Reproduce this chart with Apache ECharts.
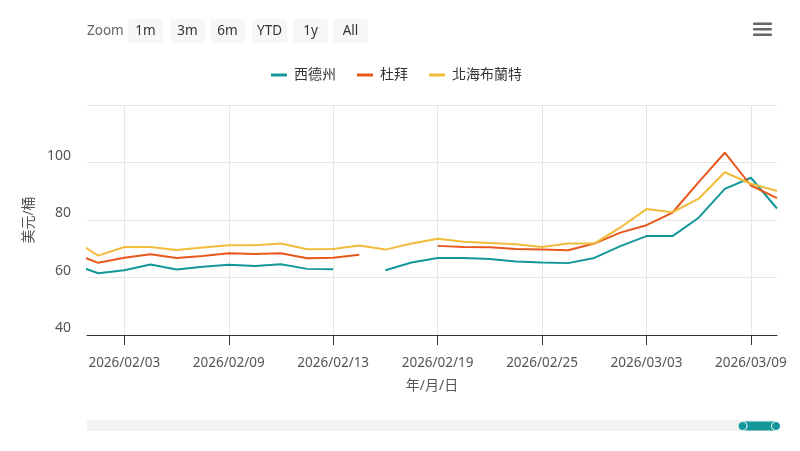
<!DOCTYPE html>
<html>
<head>
  <meta charset="utf-8">
  <title>油價</title>
  <script src="https://cdn.jsdelivr.net/npm/echarts@6/dist/echarts.min.js"></script>
  <style>
    body { margin: 0; background: #fff; }
  </style>
</head>
<body>
  <div id="main" style="width: 800px;height:451px;"></div>
  <script type="text/javascript">
    // 交易日 (index 0 = 2026/01/30)
    var dates = ['2026/01/30', '2026/02/02', '2026/02/03', '2026/02/04', '2026/02/05', '2026/02/06',
      '2026/02/09', '2026/02/10', '2026/02/11', '2026/02/12', '2026/02/13', '2026/02/16',
      '2026/02/17', '2026/02/18', '2026/02/19', '2026/02/20', '2026/02/23', '2026/02/24',
      '2026/02/25', '2026/02/26', '2026/02/27', '2026/03/02', '2026/03/03', '2026/03/04',
      '2026/03/05', '2026/03/06', '2026/03/09', '2026/03/10'];

    var wti = [64.7, 61.5, 62.5, 64.5, 62.8, 63.7, 64.4, 64.0, 64.6, 63.0, 62.9, null,
      62.5, 65.2, 66.8, 66.8, 66.4, 65.6, 65.2, 65.0, 66.8, 70.9, 74.4, 74.4,
      80.8, 90.8, 94.7, 84.0];
    var dubai = [68.6, 65.1, 66.9, 68.1, 66.8, 67.5, 68.4, 68.2, 68.4, 66.7, 66.9, 67.9,
      null, null, 71.0, 70.6, 70.5, 69.9, 69.7, 69.5, 71.8, 75.6, 78.2, 82.6,
      93.2, 103.4, 92.0, 87.6];
    var brent = [73.4, 67.6, 70.6, 70.6, 69.6, 70.4, 71.2, 71.2, 71.8, 69.8, 69.9, 71.1,
      69.7, 71.8, 73.5, 72.4, 72.0, 71.6, 70.6, 71.8, 71.8, 77.4, 83.8, 82.7,
      87.4, 96.6, 92.6, 90.1];

    var tickIdx = [2, 6, 10, 14, 18, 22, 26];
    var zoomBtns = ['1m', '3m', '6m', 'YTD', '1y', 'All'];

    var teal = '#13979b', orange = '#e8571b', yellow = '#f1bb3b';
    var font = "'Noto Sans', 'Noto Sans CJK TC', sans-serif";

    function toPairs(arr) {
      return arr.map(function (v, i) { return [i, v == null ? '-' : v]; });
    }

    var myChart = echarts.init(document.getElementById('main'));

    // 頂部 Zoom 按鈕, 選單圖示, 底部導覽列
    var graphics = [{
      type: 'text', x: 87, y: 31,
      style: { text: 'Zoom', fill: '#666', fontSize: 13.5, fontFamily: font, verticalAlign: 'middle' }
    }];
    var bx = [128, 170, 210, 252, 293, 333];
    zoomBtns.forEach(function (b, i) {
      graphics.push({
        type: 'rect', left: bx[i], top: 19,
        shape: { width: 35, height: 24, r: 2 },
        style: { fill: '#f7f7f7' }
      });
      graphics.push({
        type: 'text', x: bx[i] + 17.5, y: 31,
        style: { text: b, fill: '#333', fontSize: 13.5, fontFamily: font, align: 'center', verticalAlign: 'middle' }
      });
    });
    [22.5, 28, 33.5].forEach(function (y) {
      graphics.push({
        type: 'rect', left: 753, top: y,
        shape: { width: 19, height: 2.6, r: 1 },
        style: { fill: '#666' }
      });
    });
    graphics.push({
      type: 'rect', left: 87, top: 420,
      shape: { width: 690, height: 11 },
      style: { fill: '#f2f2f2' }
    });
    graphics.push({
      type: 'rect', left: 742, top: 421.5,
      shape: { width: 34, height: 9 },
      style: { fill: teal }
    });
    [742.5, 776].forEach(function (cx) {
      graphics.push({
        type: 'circle', shape: { cx: cx, cy: 426, r: 4.5 },
        style: { fill: teal, stroke: '#fff', lineWidth: 1 }
      });
    });

    var option = {
      backgroundColor: '#fff',
      animation: false,
      textStyle: { fontFamily: font },
      legend: {
        left: 266, top: 63,
        icon: 'rect', itemWidth: 16, itemHeight: 3, itemGap: 21,
        textStyle: { fontSize: 14, color: '#333', fontFamily: font, padding: [0, 0, 0, 2] },
        data: ['西德州', '杜拜', '北海布蘭特']
      },
      grid: { left: 87, right: 23, top: 105, bottom: 116 },
      xAxis: {
        type: 'value',
        min: 0.57, max: 27,
        name: '年/月/日',
        nameLocation: 'middle',
        nameGap: 44,
        nameTextStyle: { fontSize: 14, color: '#555' },
        axisLine: { show: true, onZero: false, lineStyle: { color: '#333', width: 1 } },
        axisTick: { show: true, length: 10, customValues: tickIdx, lineStyle: { color: '#333' } },
        axisLabel: {
          customValues: tickIdx, margin: 21, fontSize: 13.5, color: '#555',
          formatter: function (v) { return dates[Math.round(v)]; }
        },
        splitLine: { show: true, customValues: tickIdx, lineStyle: { color: '#e6e6e6' } }
      },
      yAxis: {
        type: 'value',
        min: 40, max: 120, interval: 20,
        name: '美元/桶',
        nameLocation: 'middle',
        nameRotate: 90,
        nameGap: 50,
        nameTextStyle: { fontSize: 14, color: '#555' },
        axisLine: { show: false },
        axisTick: { show: false },
        axisLabel: {
          fontSize: 14, color: '#555', margin: 16, verticalAlign: 'bottom', lineHeight: 13,
          formatter: function (v) { return v === 120 ? '' : v; }
        },
        splitLine: { lineStyle: { color: '#e6e6e6' } }
      },
      series: [
        { name: '西德州', type: 'line', data: toPairs(wti), showSymbol: false, symbol: 'none', color: teal, lineStyle: { width: 2 }, clip: true },
        { name: '杜拜', type: 'line', data: toPairs(dubai), showSymbol: false, symbol: 'none', color: orange, lineStyle: { width: 2 }, clip: true },
        { name: '北海布蘭特', type: 'line', data: toPairs(brent), showSymbol: false, symbol: 'none', color: yellow, lineStyle: { width: 2 }, clip: true }
      ],
      graphic: graphics
    };

    myChart.setOption(option);
  </script>
</body>
</html>
